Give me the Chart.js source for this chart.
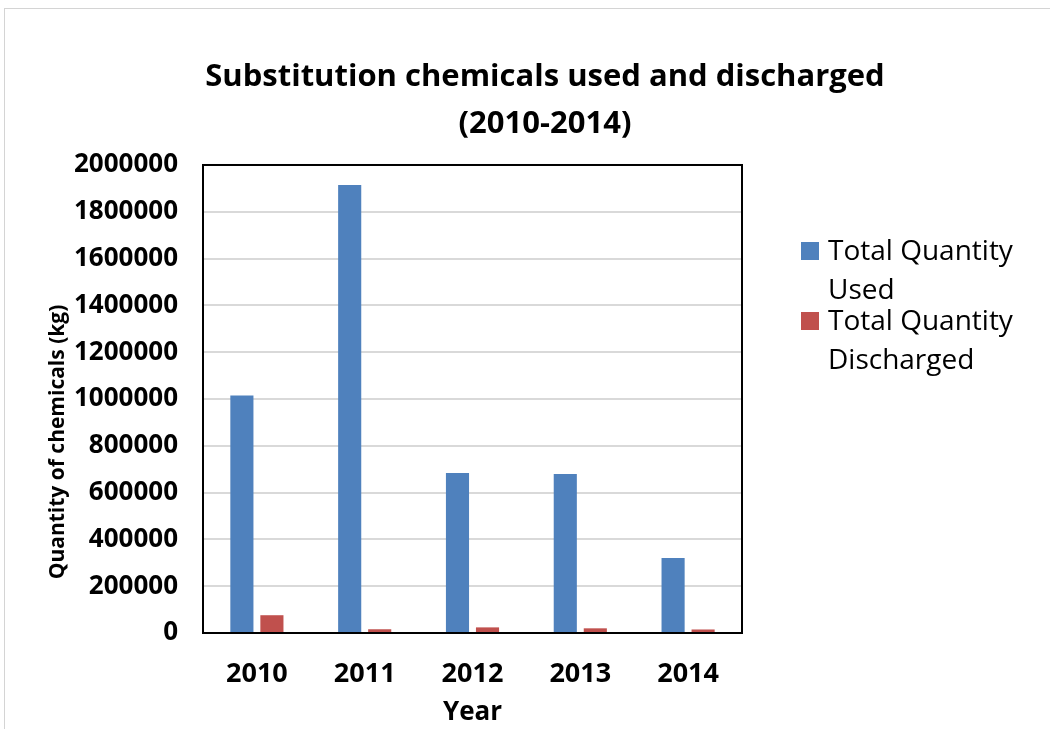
<!DOCTYPE html>
<html>
<head>
<meta charset="utf-8">
<script src="https://cdn.jsdelivr.net/npm/chart.js@4"></script>
<style>
  body { margin: 0; background: #fff; }
  #wrap { position: relative; width: 1050px; height: 729px; overflow: hidden; }
  #frame { position: absolute; left: 4px; top: 8px; width: 1100px; height: 800px; border: 1px solid #d4d4d4; }
  #myChart { position: absolute; left: 0; top: 0; }
  #legend { position: absolute; left: 801px; top: 230px; font-family: "Open Sans", sans-serif; font-size: 28px; line-height: 39px; color: #000; }
  .item { position: relative; padding-left: 27px; width: 200px; }
  .item + .item { margin-top: -8px; }
  .box { position: absolute; left: 0; top: 12px; width: 18px; height: 18px; }
</style>
</head>
<body>
<div id="wrap">
  <div id="frame"></div>
  <canvas id="myChart" width="1050" height="729"></canvas>
  <div id="legend"></div>
</div>
<script>
const years = ['2010', '2011', '2012', '2013', '2014'];
const used = [1015000, 1915000, 684000, 680000, 320000];
const discharged = [76000, 16000, 24000, 20000, 15000];
const seriesNames = ['Total Quantity Used', 'Total Quantity Discharged'];
const seriesColors = ['#4f81bd', '#c0504d'];
const chartTitle = ['Substitution chemicals used and discharged', '(2010-2014)'];
const yTitle = 'Quantity of chemicals (kg)';
const xTitle = 'Year';

const font = '"Open Sans", sans-serif';

// plot frame + rotated y title
const extras = {
  id: 'extras',
  afterDraw(chart) {
    const ctx = chart.ctx;
    const a = chart.chartArea;
    ctx.save();
    ctx.strokeStyle = '#000';
    ctx.lineWidth = 2;
    ctx.strokeRect(a.left, a.top, a.right - a.left, a.bottom - a.top);
    ctx.translate(58, 442);
    ctx.rotate(-Math.PI / 2);
    ctx.font = 'bold 21px ' + font;
    ctx.fillStyle = '#000';
    ctx.textAlign = 'center';
    ctx.textBaseline = 'middle';
    ctx.fillText(yTitle, 0, 0);
    ctx.restore();
  }
};

const ctx = document.getElementById('myChart').getContext('2d');
const myChart = new Chart(ctx, {
  type: 'bar',
  data: {
    labels: years,
    datasets: [{
      label: seriesNames[0],
      data: used,
      backgroundColor: seriesColors[0],
      yAxisID: 'y'
    }, {
      label: seriesNames[1],
      data: discharged,
      backgroundColor: seriesColors[1],
      yAxisID: 'y'
    }]
  },
  options: {
    responsive: false,
    animation: false,
    layout: { padding: { left: 40, right: 0, top: 0, bottom: 0 } },
    datasets: { bar: { categoryPercentage: 0.557, barPercentage: 0.77 } },
    plugins: {
      legend: { display: false },
      tooltip: { enabled: false },
      title: {
        display: true,
        text: chartTitle,
        color: '#000',
        font: { family: font, size: 31, weight: 'bold', lineHeight: 1.516 },
        padding: { top: 54, bottom: 17 }
      }
    },
    scales: {
      x: {
        grid: { display: false, drawTicks: false },
        border: { display: false },
        ticks: { color: '#000', padding: 25, font: { family: font, size: 27, weight: 'bold' } },
        title: { display: true, text: xTitle, color: '#000', padding: { top: 3, bottom: 1 }, font: { family: font, size: 26, weight: 'bold' } },
        afterFit(s) { s.height = 96; }
      },
      y: {
        min: 0,
        max: 2000000,
        ticks: {
          stepSize: 200000, color: '#000', padding: 25,
          font: { family: font, size: 26, weight: 'bold' },
          callback: v => String(v)
        },
        grid: { color: '#d9d9d9', lineWidth: 2, drawTicks: false },
        border: { display: false },
        afterFit(s) { s.width = 163; }
      },
      yRight: {
        position: 'right',
        grid: { display: false, drawTicks: false },
        border: { display: false },
        ticks: { display: false },
        afterFit(s) { s.width = 308; }
      }
    }
  },
  plugins: [extras]
});

// legend with wrapped labels, built from the chart's datasets
const legend = document.getElementById('legend');
myChart.data.datasets.forEach(ds => {
  const item = document.createElement('div');
  item.className = 'item';
  const box = document.createElement('span');
  box.className = 'box';
  box.style.background = ds.backgroundColor;
  item.appendChild(box);
  item.appendChild(document.createTextNode(ds.label));
  legend.appendChild(item);
});
</script>
</body>
</html>
